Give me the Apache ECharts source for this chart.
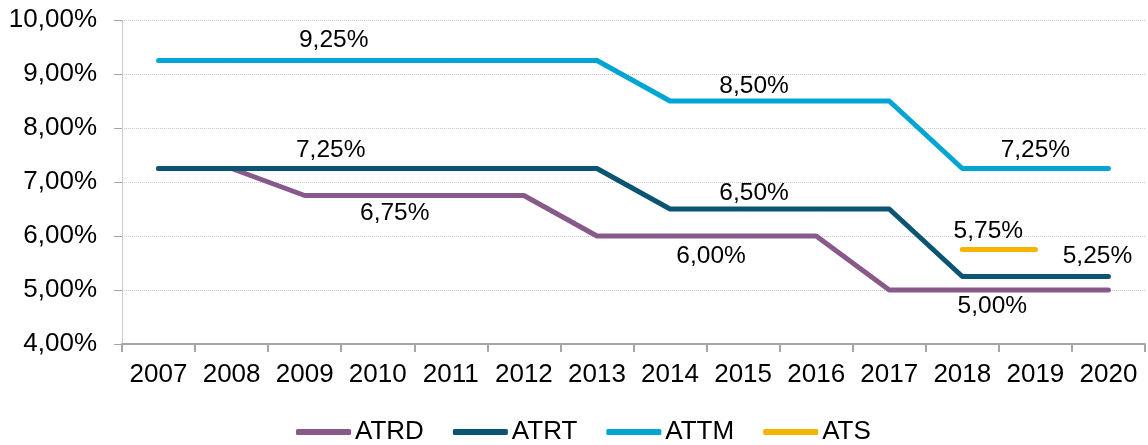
<!DOCTYPE html>
<html>
<head>
<meta charset="utf-8">
<script src="https://cdn.jsdelivr.net/npm/echarts@6/dist/echarts.min.js"></script>
<style>
  html, body { margin: 0; padding: 0; background: #fff; }
  #chart { width: 1148px; height: 445px; }
</style>
</head>
<body>
<div id="chart"></div>
<script>
var years = ['2007', '2008', '2009', '2010', '2011', '2012', '2013', '2014', '2015', '2016', '2017', '2018', '2019', '2020'];
var atrd = [7.25, 7.25, 6.75, 6.75, 6.75, 6.75, 6.00, 6.00, 6.00, 6.00, 5.00, 5.00, 5.00, 5.00];
var atrt = [7.25, 7.25, 7.25, 7.25, 7.25, 7.25, 7.25, 6.50, 6.50, 6.50, 6.50, 5.25, 5.25, 5.25];
var attm = [9.25, 9.25, 9.25, 9.25, 9.25, 9.25, 9.25, 8.50, 8.50, 8.50, 8.50, 7.25, 7.25, 7.25];
var ats = [null, null, null, null, null, null, null, null, null, null, null, 5.75, 5.75, null];
var yTicks = [4, 5, 6, 7, 8, 9, 10];

var FONT = '"Liberation Sans", Arial, sans-serif';

function pct(v) {
    return v.toFixed(2).replace('.', ',') + '%';
}

// which points carry a value label, and where the label sits relative to the point
var labelSpots = {
    ATRD: [[3, 17, 18], [8, -32, 20], [11, 30, 16]],
    ATRT: [[2, 26, -18], [8, 11, -16], [13, -11, -20]],
    ATTM: [[2, 29, -20], [8, 11, -15], [12, 0, -18]],
    ATS: [[11, 26, -18]]
};

function buildData(name, values) {
    var spots = {};
    labelSpots[name].forEach(function(s) { spots[s[0]] = s; });
    return values.map(function(v, i) {
        if (v === null || !spots[i]) return v;
        return {
            value: v,
            label: {
                show: true,
                position: 'inside',
                offset: [spots[i][1], spots[i][2]],
                formatter: function(p) { return pct(p.value); },
                color: '#000',
                fontSize: 24.5,
                fontFamily: FONT
            }
        };
    });
}

function lineSeries(name, values, color) {
    return {
        name: name,
        type: 'line',
        data: buildData(name, values),
        symbol: 'circle',
        symbolSize: 1,
        showSymbol: true,
        itemStyle: { color: color },
        lineStyle: { color: color, width: 5, cap: 'round', join: 'round' },
        connectNulls: false,
        animation: false
    };
}

var chart = echarts.init(document.getElementById('chart'));

var option = {
    backgroundColor: '#ffffff',
    textStyle: { fontFamily: FONT },
    grid: { left: 122, right: 3, top: 20, bottom: 101, containLabel: false },
    legend: {
        top: 419,
        left: 296,
        data: ['ATRD', 'ATRT', 'ATTM', 'ATS'],
        icon: 'roundRect',
        itemWidth: 55,
        itemHeight: 6,
        itemGap: 29,
        padding: 0,
        textStyle: { color: '#000', fontSize: 26, fontFamily: FONT, padding: [0, 0, 0, -1] }
    },
    xAxis: {
        type: 'category',
        data: years,
        boundaryGap: true,
        axisLine: { lineStyle: { color: '#a6a6a6', width: 2 } },
        axisTick: { show: true, interval: 0, length: 8, lineStyle: { color: '#a6a6a6', width: 2 } },
        axisLabel: { color: '#000', fontSize: 26, margin: 18, interval: 0, fontFamily: FONT },
        splitLine: { show: false }
    },
    yAxis: {
        type: 'value',
        min: yTicks[0],
        max: yTicks[yTicks.length - 1],
        interval: 1,
        axisLine: { show: true, lineStyle: { color: '#bfbfbf', width: 1, type: 'dotted' } },
        axisTick: { show: true, length: 8, lineStyle: { color: '#a6a6a6', width: 1 } },
        axisLabel: {
            color: '#000',
            fontSize: 26,
            margin: 25,
            fontFamily: FONT,
            formatter: function(v) { return pct(v); }
        },
        splitLine: { show: true, lineStyle: { color: '#c8c8c8', width: 1, type: 'dotted' } }
    },
    series: [
        lineSeries('ATRD', atrd, '#875a8b'),
        lineSeries('ATRT', atrt, '#0b5573'),
        lineSeries('ATTM', attm, '#00a5d4'),
        lineSeries('ATS', ats, '#f5b400')
    ]
};

chart.setOption(option);
</script>
</body>
</html>
